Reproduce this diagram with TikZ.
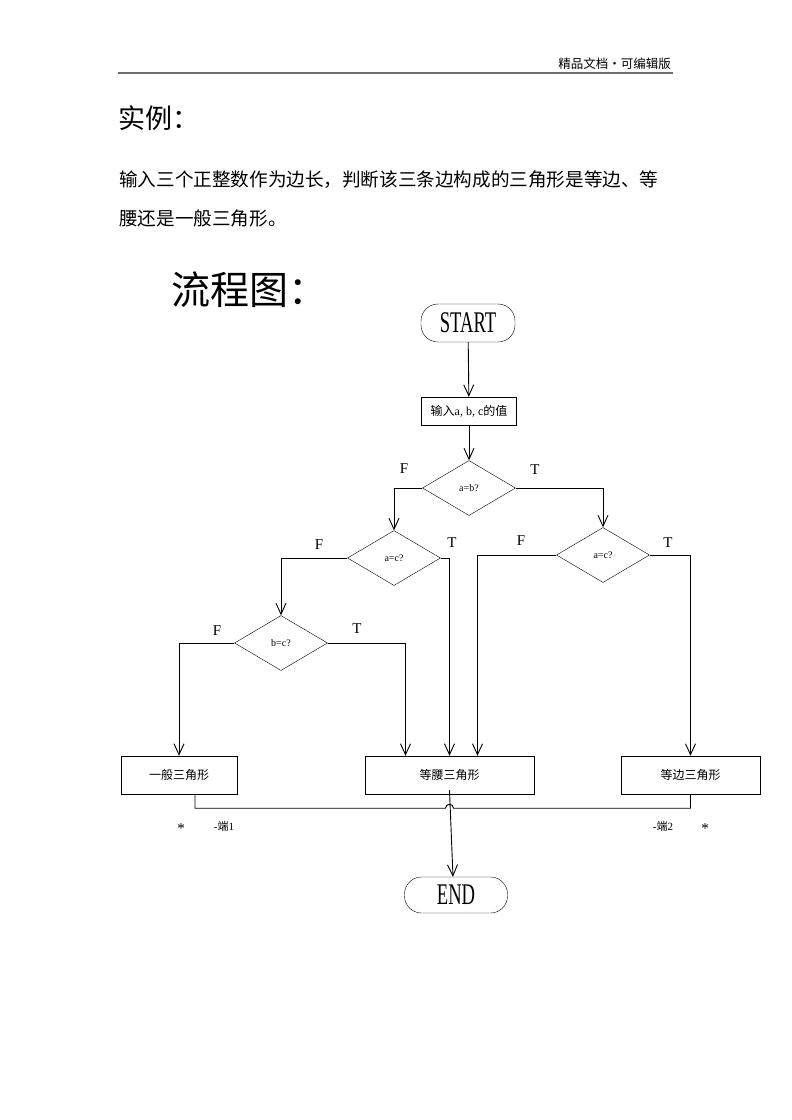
\documentclass[tikz,border=0pt]{standalone}
\usepackage{fontspec}
\setmainfont{Liberation Serif}
\newfontfamily\cjk{Noto Sans CJK SC}
\usetikzlibrary{arrows.meta,shapes.geometric}
\definecolor{rulegray}{RGB}{110,110,110}
\newcommand{\tall}[1]{\scalebox{0.62}[1]{#1}}
\newcommand{\fs}[1]{\fontsize{#1}{#1}\selectfont}
\tikzset{
  term/.style={draw, rounded corners=17pt, minimum width=94pt, minimum height=38pt,
               font=\fs{30}, inner sep=0pt},
  proc/.style={draw, minimum height=38pt, inner sep=0pt, font=\cjk\fs{12}},
  dec/.style={draw, diamond, inner sep=0pt, minimum width=93pt, minimum height=55pt,
              font=\fs{10}},
  flow/.style={-{Straight Barb[length=11pt,width=10pt]}, line width=0.9pt},
  wire/.style={line width=0.9pt},
  lbl/.style={font=\fs{15}, inner sep=0pt},
  note/.style={font=\fs{11}, inner sep=0pt},
  txt/.style={anchor=west, inner sep=0pt, font=\cjk\fs{18.6}},
}

\begin{document}
\begin{tikzpicture}[x=1pt, y=-1pt]
  \fill[white] (0,0) rectangle (792,1120);
  \useasboundingbox (0,0) rectangle (792,1120);
  % page head
  \node[anchor=east, inner sep=0pt, font=\cjk\fs{12.5}] (head) at (671,64) {精品文档•可编辑版};
  \draw[rulegray, line width=1.5pt] (118,73) -- (673,73);
  \node[txt, font=\cjk\fs{27}] (title) at (118,118) {实例：};
  \node[txt] (par1) at (119,180) {输入三个正整数作为边长，判断该三条边构成的三角形是等边、等};
  \node[txt] (par2) at (119,218) {腰还是一般三角形。};
  \node[txt, font=\cjk\fs{39}] (chart) at (171,290) {流程图：};

  % flow chart
  \node[term] (start) at (468,323) {\tall{START}};
  \node[proc, minimum width=95pt, minimum height=28pt] (input) at (469,411)
       {输入{\rmfamily a, b, c}的值};
  \node[dec] (ab) at (469,488) {a=b?};
  \node[dec] (ac1) at (394,558) {a=c?};
  \node[dec] (ac2) at (603,555) {a=c?};
  \node[dec] (bc) at (281,643) {b=c?};
  \node[proc, minimum width=116pt] (gen) at (179,775) {一般三角形};
  \node[proc, minimum width=169pt] (iso) at (449.5,775) {等腰三角形};
  \node[proc, minimum width=139pt] (equ) at (690.5,775) {等边三角形};
  \node[term, minimum width=103pt, minimum height=36pt] (end) at (456,895) {\tall{END}};

  \node[lbl] at (404,469) {F};
  \node[lbl] at (535,470) {T};
  \node[lbl] at (319,545) {F};
  \node[lbl] at (452,543) {T};
  \node[lbl] at (521,541) {F};
  \node[lbl] at (668,543) {T};
  \node[lbl] at (217,631) {F};
  \node[lbl] at (357,629) {T};

  \draw[flow] (start) -- (input);
  \draw[flow] (input) -- (ab);
  \draw[flow] (ab.west) -| (ac1.north);
  \draw[flow] (ab.east) -| (ac2.north);
  \draw[flow] (ac1.west) -| (bc.north);
  \draw[flow] (ac1.east) -| (iso.north);
  \draw[flow] (bc.west) -| (gen.north);
  \draw[flow] (bc.east) -| ([xshift=-44pt]iso.north);
  \draw[flow] (ac2.west) -| ([xshift=28pt]iso.north);
  \draw[flow] (ac2.east) -| (equ.north);

  % joining line with a hop
  \path ([xshift=16pt]gen.south) ++(0,14) coordinate (j1);
  \draw[wire] ([xshift=16pt]gen.south) -- (j1)
    -- ([xshift=-4pt]j1 -| iso.south) arc[start angle=180, end angle=360, radius=4]
    -- (j1 -| equ.south) -- (equ.south);
  \draw[flow] ([yshift=4pt]iso.south) -- ([xshift=-3pt]end.north);

  \node[note, font=\fs{15}] (s1) at (181,829) {*};
  \node[note] (e1) at (224,826) {-{\cjk 端}1};
  \node[note] (e2) at (663,826) {-{\cjk 端}2};
  \node[note, font=\fs{15}] (s2) at (705,829) {*};
\end{tikzpicture}
\end{document}
